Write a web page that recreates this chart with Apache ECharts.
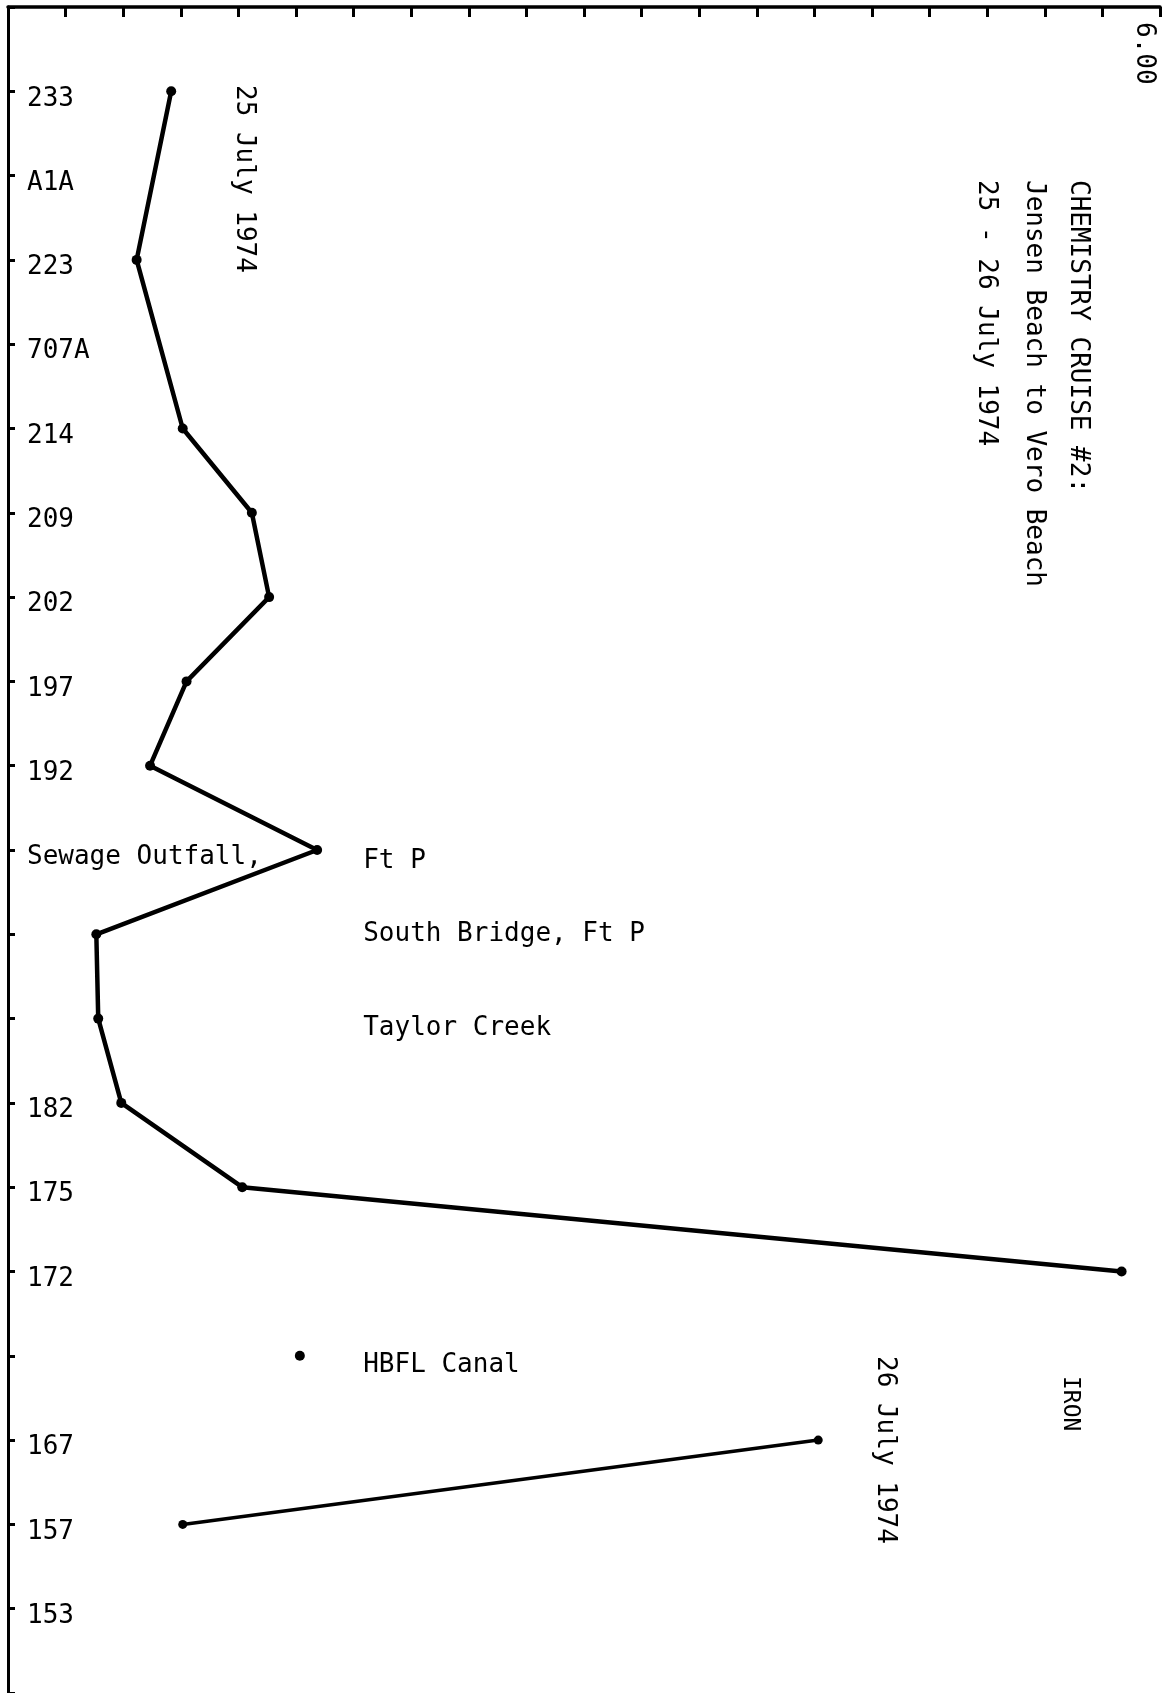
<!DOCTYPE html>
<html>
<head>
<meta charset="utf-8">
<script src="https://cdn.jsdelivr.net/npm/echarts@6/dist/echarts.min.js"></script>
<style>
  html, body { margin: 0; padding: 0; background: #ffffff; }
  #chart { width: 1174px; height: 1693px; }
</style>
</head>
<body>
<div id="chart"></div>
<script>
// Sampling stations, north (top) to south (bottom)
const stations = ['233', 'A1A', '223', '707A', '214', '209', '202', '197', '192',
  'Sewage Outfall,', '', '', '182', '175', '172', '', '167', '157', '153'];

// Iron, 25 July 1974 (null = no sample at that station)
const iron25Jul = [0.85, null, 0.67, null, 0.91, 1.27, 1.36, 0.93, 0.74,
  1.61, 0.46, 0.47, 0.59, 1.22, 5.80, null, null, null, null];

// HBFL Canal, lone sample
const ironCanal = [null, null, null, null, null, null, null, null, null,
  null, null, null, null, null, null, 1.52, null, null, null];

// Iron, 26 July 1974
const iron26Jul = [null, null, null, null, null, null, null, null, null,
  null, null, null, null, null, null, null, 4.22, 0.91, null];

// Site names written beside the traverse (positions on the station scale)
const siteNotes = ['Ft P', 'South Bridge, Ft P', 'Taylor Creek', 'HBFL Canal'];
const siteNoteRows = [10.13, 11.0, 12.11, 16.11];
const siteNoteX = 1.85;

// Concentration scale
const xMin = 0, xMax = 6, xStep = 0.3;
const xEndLabel = '6.00';

const titleLines = ['CHEMISTRY CRUISE #2:', 'Jensen Beach to Vero Beach', '25 - 26 July 1974'];
const dateTop = '25 July 1974';
const dateBottom = '26 July 1974';
const paramName = 'IRON';

const FONT = '"DejaVu Sans Mono", "Liberation Mono", monospace';
const INK = '#000000';

function toPoints(arr) {
  const pts = [];
  arr.forEach((v, i) => { if (v !== null) pts.push([v, i + 1]); });
  return pts;
}

const chart = echarts.init(document.getElementById('chart'), null, { renderer: 'canvas' });

function vText(text, x, y, size) {
  return {
    type: 'text', x: x, y: y, rotation: -Math.PI / 2, silent: true,
    style: {
      text: text, fill: INK, font: (size || 26) + 'px ' + FONT,
      textAlign: 'left', textVerticalAlign: 'middle'
    }
  };
}

chart.setOption({
  animation: false,
  backgroundColor: '#ffffff',
  grid: { left: 8, top: 7, width: 1152, height: 1690, containLabel: false },
  xAxis: {
    type: 'value', position: 'top', min: xMin, max: xMax, interval: xStep,
    axisLine: { show: true, lineStyle: { color: INK, width: 3.5 } },
    axisTick: { show: true, inside: true, length: 10, lineStyle: { color: INK, width: 3 } },
    axisLabel: { show: false },
    splitLine: { show: false }
  },
  yAxis: {
    type: 'value', inverse: true, min: 0, max: stations.length + 1, interval: 1,
    axisLine: { show: true, onZero: false, lineStyle: { color: INK, width: 3 } },
    axisTick: { show: true, inside: true, length: 7, lineStyle: { color: INK, width: 3 } },
    axisLabel: {
      show: true, inside: true, margin: 19, align: 'left', verticalAlign: 'middle',
      formatter: v => (v >= 1 && v <= stations.length && stations[v - 1])
        ? '{s|' + stations[v - 1] + '}' : '',
      rich: {
        s: {
          color: INK, fontFamily: FONT, fontSize: 26,
          padding: [15, 0, 0, 0]
        }
      }
    },
    splitLine: { show: false }
  },
  series: [
    {
      name: dateTop, type: 'line', data: toPoints(iron25Jul),
      symbol: 'circle', symbolSize: 10, z: 3,
      lineStyle: { color: INK, width: 4.5 }, itemStyle: { color: INK, opacity: 1 }
    },
    {
      name: 'HBFL Canal', type: 'scatter', data: toPoints(ironCanal),
      symbol: 'circle', symbolSize: 10, itemStyle: { color: INK, opacity: 1 }
    },
    {
      name: dateBottom, type: 'line', data: toPoints(iron26Jul),
      symbol: 'circle', symbolSize: 9, z: 3,
      lineStyle: { color: INK, width: 3.5 }, itemStyle: { color: INK, opacity: 1 }
    },
    {
      name: 'sites', type: 'scatter', symbolSize: 0, silent: true,
      itemStyle: { opacity: 1 },
      data: siteNotes.map((t, i) => ({ name: t, value: [siteNoteX, siteNoteRows[i]] })),
      label: {
        show: true, position: 'right', distance: 0, color: INK,
        fontFamily: FONT, fontSize: 26, formatter: p => p.name
      }
    }
  ],
  graphic: [
    vText(xEndLabel, 1144, 22),
    vText(dateTop, 244, 85),
    vText(titleLines[0], 1078, 180),
    vText(titleLines[1], 1034, 180),
    vText(titleLines[2], 986, 180),
    vText(paramName, 1070, 1376, 23),
    vText(dateBottom, 885, 1356)
  ]
});
</script>
</body>
</html>
